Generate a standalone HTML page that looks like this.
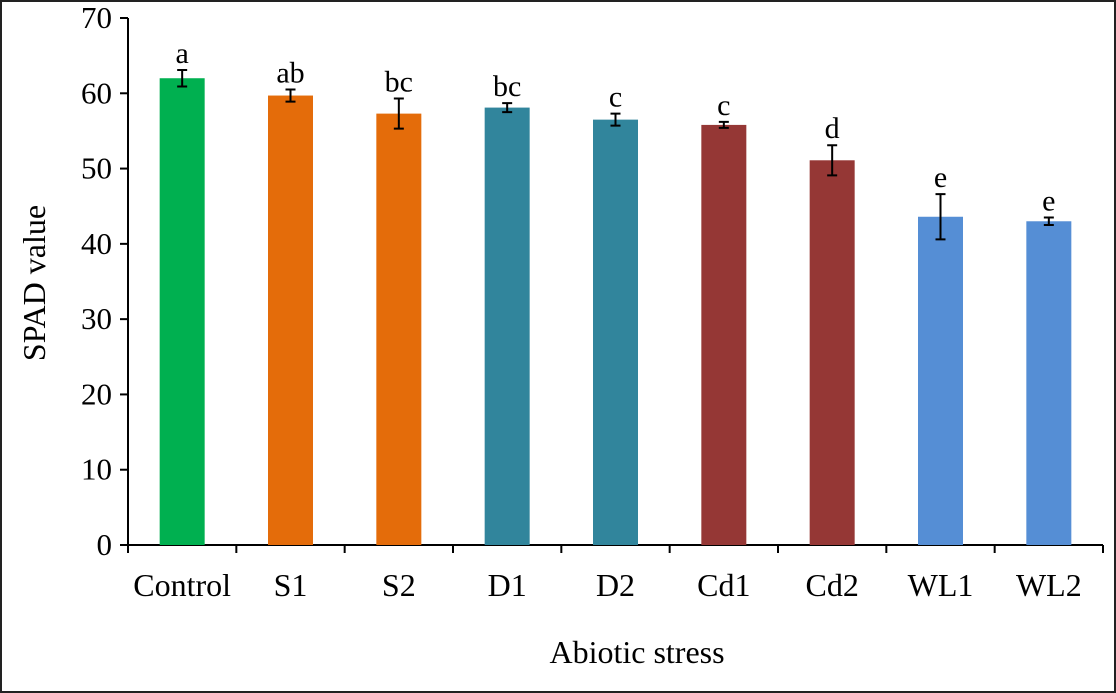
<!DOCTYPE html>
<html><head><meta charset="utf-8"><style>
html,body{margin:0;padding:0;background:#fff;}
svg{display:block;font-family:"Liberation Serif",serif;}
</style></head><body>
<svg id="chart" width="1116" height="693">
<rect x="1" y="1" width="1114" height="691" fill="#fff" stroke="#222" stroke-width="2"/>
<g id="marks"></g>
</svg>
<script>
const categories=["Control","S1","S2","D1","D2","Cd1","Cd2","WL1","WL2"];
const values=[62.0,59.7,57.3,58.1,56.5,55.8,51.1,43.6,43.0];
const errors=[1.1,0.8,2.0,0.6,0.8,0.4,2.0,3.0,0.5];
const letters=["a","ab","bc","bc","c","c","d","e","e"];
const colors=["#00b050","#e46c0a","#e46c0a","#31859c","#31859c","#953735","#953735","#558ed5","#558ed5"];
const yTicks=[0,10,20,30,40,50,60,70];
const NS="http://www.w3.org/2000/svg";
const g=document.getElementById('marks');
const x0=128,x1=1103,y0=545,y1=18,ymax=70;
const band=(x1-x0)/categories.length;
const Y=v=>y0-(v/ymax)*(y0-y1);
const X=i=>x0+band*(i+0.5);
function el(t,a,txt){const e=document.createElementNS(NS,t);for(const k in a)e.setAttribute(k,a[k]);if(txt!==undefined)e.textContent=txt;g.appendChild(e);return e;}
let e;
e=el('line',{x1:x0,y1:y0,x2:x0,y2:y1,stroke:'#000','stroke-width':2});


e=el('line',{x1:x0,y1:y0,x2:x1,y2:y0,stroke:'#000','stroke-width':2});


yTicks.forEach(t=>{
 e=el('line',{x1:x0-8,y1:Y(t),x2:x0,y2:Y(t),stroke:'#000','stroke-width':2});
 
 
 e=el('text',{x:x0-16,y:Y(t)+10,'text-anchor':'end','font-size':31},t);
 
 
});
for(let i=0;i<=categories.length;i++){
 e=el('line',{x1:x0+band*i,y1:y0,x2:x0+band*i,y2:y0+8,stroke:'#000','stroke-width':2});
 
 
}
const bw=45;
categories.forEach((c,i)=>{
 const cx=X(i);
 e=el('rect',{x:cx-bw/2,y:Y(values[i]),width:bw,height:y0-Y(values[i]),fill:colors[i]});
 
 
 const yt=Y(values[i]+errors[i]),yb=Y(values[i]-errors[i]);
 e=el('path',{d:`M${cx},${yt}V${yb}M${cx-5},${yt}H${cx+5}M${cx-5},${yb}H${cx+5}`,stroke:'#000','stroke-width':2,fill:'none'});
 
 
 e=el('text',{x:cx,y:yt-7,'text-anchor':'middle','font-size':30},letters[i]);
 
 
 e=el('text',{x:cx,y:596,'text-anchor':'middle','font-size':32},c);
 
 
});
e=el('text',{x:637,y:663,'text-anchor':'middle','font-size':32},'Abiotic stress');


e=el('text',{x:0,y:0,'text-anchor':'middle','font-size':32,transform:'translate(45,283) rotate(-90)'},'SPAD value');


</script>
</body></html>
